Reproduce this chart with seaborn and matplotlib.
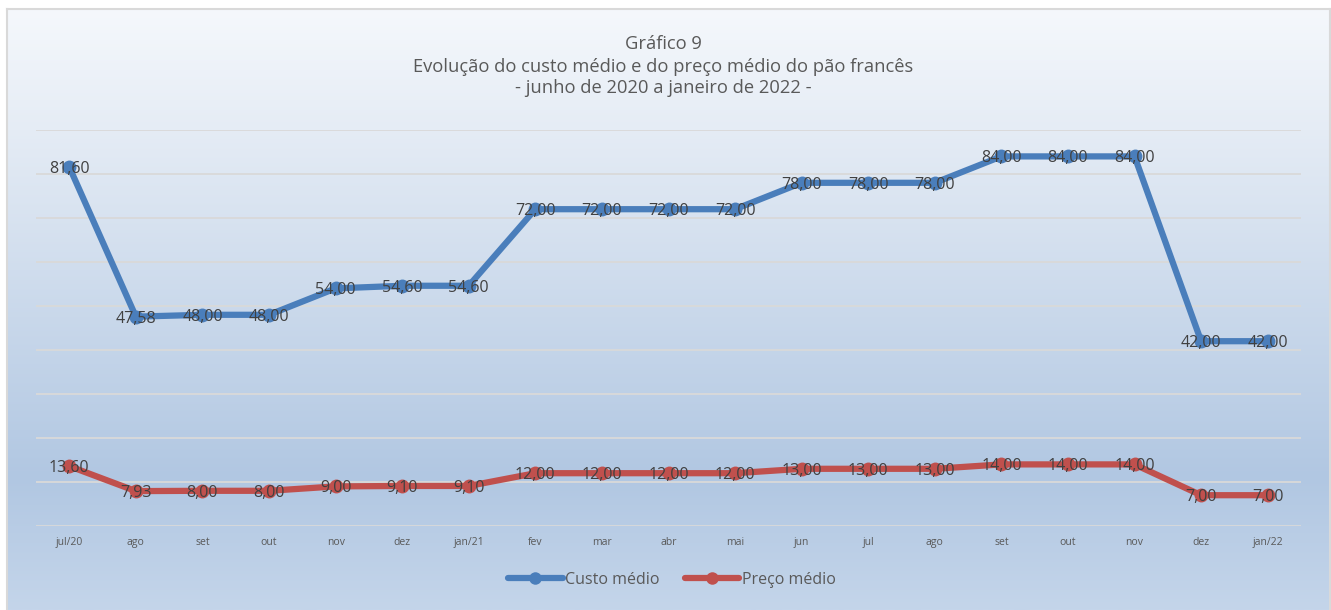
import numpy as np
import pandas as pd
import matplotlib
matplotlib.use("Agg")
import matplotlib.pyplot as plt
import seaborn as sns
from matplotlib.colors import LinearSegmentedColormap
from matplotlib.lines import Line2D

months = ['jul/20', 'ago', 'set', 'out', 'nov', 'dez', 'jan/21', 'fev', 'mar', 'abr',
          'mai', 'jun', 'jul', 'ago', 'set', 'out', 'nov', 'dez', 'jan/22']
custo = [81.60, 47.58, 48.00, 48.00, 54.00, 54.60, 54.60, 72.00, 72.00, 72.00,
         72.00, 78.00, 78.00, 78.00, 84.00, 84.00, 84.00, 42.00, 42.00]
preco = [13.60, 7.93, 8.00, 8.00, 9.00, 9.10, 9.10, 12.00, 12.00, 12.00,
         12.00, 13.00, 13.00, 13.00, 14.00, 14.00, 14.00, 7.00, 7.00]
series_names = ['Custo médio', 'Preço médio']
title_lines = ['Gráfico 9',
               'Evolução do custo médio e do preço médio do pão francês',
               '- junho de 2020 a janeiro de 2022 -']

sns.set_theme(style="white")
plt.rcParams['font.family'] = ['Open Sans', 'DejaVu Sans']

W, H = 1331, 610
fig = plt.figure(figsize=(W / 100, H / 100), dpi=100)
fig.patch.set_facecolor('white')

# background panel with gradient
bg = fig.add_axes([7 / W, 0, (1330 - 7) / W, (H - 9) / H])
bg.set_zorder(0)
cmap = LinearSegmentedColormap.from_list(
    'bg', [(0.0, '#F5F8FC'), (0.2, '#E5ECF5'), (0.78, '#B1C7E2'), (1.0, '#C4D5EA')])
grad = np.linspace(0, 1, 256).reshape(-1, 1)
bg.imshow(grad, aspect='auto', cmap=cmap, extent=[0, 1, 0, 1], origin='upper')
bg.set_xlim(0, 1)
bg.set_ylim(0, 1)
bg.set_xticks([])
bg.set_yticks([])
for s in ['left', 'right', 'top']:
    bg.spines[s].set_color('#D9D9D9')
    bg.spines[s].set_linewidth(1.5)
bg.spines['bottom'].set_visible(False)

# main axes
ax = fig.add_axes([36 / W, 1 - 526 / H, (1301 - 36) / W, 396 / H])
ax.set_zorder(1)
ax.patch.set_alpha(0)

x = np.arange(len(months))
df = pd.DataFrame({
    'x': np.concatenate([x, x]),
    'valor': custo + preco,
    'serie': [series_names[0]] * len(x) + [series_names[1]] * len(x),
})
palette = {series_names[0]: '#4A7EBB', series_names[1]: '#C0504D'}
sns.lineplot(data=df, x='x', y='valor', hue='serie', palette=palette, ax=ax,
             marker='o', markersize=10, linewidth=4.5, markeredgewidth=0,
             legend=False, zorder=3)

for vals in (custo, preco):
    for xi, v in zip(x, vals):
        ax.text(xi, v, f"{v:.2f}".replace('.', ','), ha='center', va='center_baseline',
                fontsize=11.5, color='#404040', zorder=5)

ax.set_xlim(-0.5, len(months) - 0.5)
ax.set_ylim(0, 90)
ax.set_yticks(np.arange(0, 91, 10))
ax.set_yticklabels([])
ax.yaxis.grid(True, color='#D9D9D9', linewidth=1.3)
ax.set_axisbelow(True)
ax.set_xticks(x)
ax.set_xticklabels(months, fontsize=7.5, color='#595959')
ax.tick_params(axis='x', length=0, pad=8)
ax.tick_params(axis='y', length=0)
ax.set_xlabel('')
ax.set_ylabel('')
for s in ax.spines.values():
    s.set_visible(False)

# title
for t, yy in zip(title_lines, [44, 67, 88]):
    fig.text(663 / W, 1 - yy / H, t, ha='center', va='center', fontsize=13.2,
             color='#595959', zorder=6)

handles = [Line2D([0], [0], color=palette[n], lw=4.5, marker='o', markersize=9,
                  markeredgewidth=0) for n in series_names]
leg = fig.legend(handles, series_names, loc='center', bbox_to_anchor=(672 / W, 1 - 580 / H),
                 ncol=2, frameon=False, fontsize=11.5, handlelength=3.4, columnspacing=1.6,
                 handletextpad=0.15, labelcolor='#595959')

fig.savefig('out.png', dpi=100)
